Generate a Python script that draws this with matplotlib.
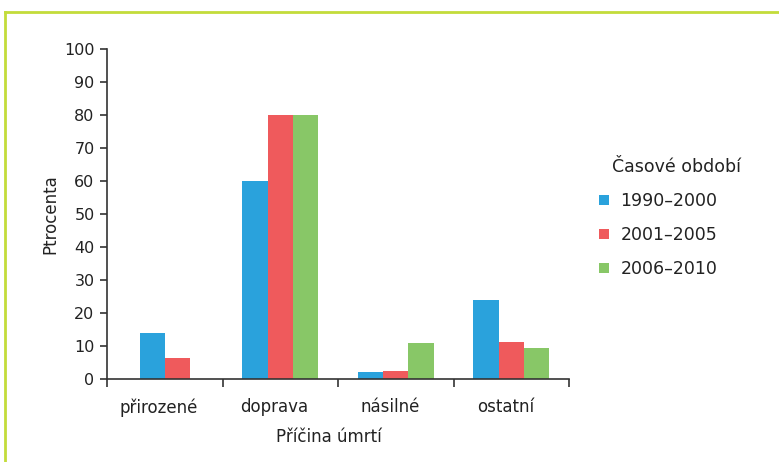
import numpy as np
import matplotlib
matplotlib.use("Agg")
import matplotlib.pyplot as plt
from matplotlib.lines import Line2D
from matplotlib.transforms import ScaledTranslation

plt.rcParams['font.family'] = ['DejaVu Sans']

categories = ["přirozené", "doprava", "násilné", "ostatní"]
series_names = ["1990–2000", "2001–2005", "2006–2010"]
values = {
    "1990–2000": [14, 60, 2.2, 24],
    "2001–2005": [6.3, 80, 2.5, 11.3],
    "2006–2010": [np.nan, 80, 10.8, 9.3],
}
colors = ["#2aa2dc", "#ef5a5c", "#88c767"]
yticks = [0, 10, 20, 30, 40, 50, 60, 70, 80, 90, 100]

fig = plt.figure(figsize=(7.79, 4.62), dpi=100)
ax = fig.add_axes([107/779, 1-379/462, (569-107)/779, (379-49)/462])

bw = 0.218
for i, cat in enumerate(categories):
    present = [s for s in series_names if not np.isnan(values[s][i])]
    n = len(present)
    for j, s in enumerate(present):
        off = (j - (n - 1) / 2) * bw
        ax.bar(i + off, values[s][i], width=bw, color=colors[series_names.index(s)],
               linewidth=0)

ax.set_xlim(-0.5, len(categories) - 0.5)
ax.set_ylim(0, 100)
ax.set_yticks(yticks)
ax.tick_params(axis='y', direction='out', length=5, width=1.2, colors='#333333',
               labelsize=11.5, labelcolor='#222222', pad=4)
ax.set_xticks(np.arange(len(categories) + 1) - 0.5)
ax.set_xticklabels([])
ax.tick_params(axis='x', direction='out', length=6, width=1.2, colors='#333333')
offset = ScaledTranslation(-6/100, -3/100, fig.dpi_scale_trans)
for i, cat in enumerate(categories):
    t = ax.text(i, -0.05, cat, ha='center', va='top', fontsize=12, color='#222222')
    t.set_transform(ax.get_xaxis_transform() + offset)

for sp in ['top', 'right']:
    ax.spines[sp].set_visible(False)
for sp in ['left', 'bottom']:
    ax.spines[sp].set_color('#333333')
    ax.spines[sp].set_linewidth(1.2)

ax.set_ylabel("Ptrocenta", fontsize=12, color='#222222', labelpad=3.5)
fig.text(329/779, 1-437/462, "Příčina úmrtí", ha='center', va='center', fontsize=12,
         color='#222222')

handles = [Line2D([], [], marker='s', linestyle='none', markersize=7.5,
                  markerfacecolor=c, markeredgewidth=0) for c in colors]
fig.text(612/779, 1-167/462, "Časové období", ha='left', va='center', fontsize=12.5,
         color='#222222')
fig.legend(handles, series_names, loc='upper left', bbox_to_anchor=(598/779, 1-192/462),
           frameon=False, fontsize=12.5, labelspacing=0.93, handlelength=0.7,
           handletextpad=0.6, borderpad=0, borderaxespad=0, labelcolor='#222222')

border = '#c3dc3a'
fig.add_artist(Line2D([4.5/779, 1], [1-11.5/462, 1-11.5/462], color=border, lw=2,
                      transform=fig.transFigure))
fig.add_artist(Line2D([4.5/779, 4.5/779], [0, 1-11.5/462], color=border, lw=2,
                      transform=fig.transFigure))

fig.savefig("out.png", dpi=100)
